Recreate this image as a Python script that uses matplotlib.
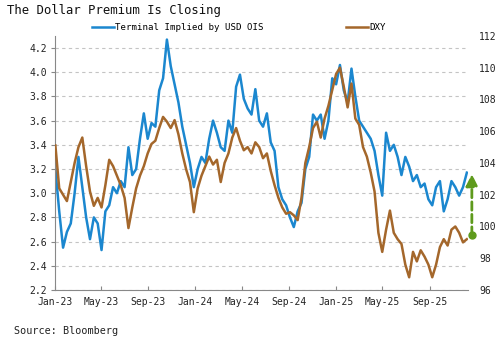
import matplotlib
matplotlib.use("Agg")
import matplotlib.pyplot as plt
import matplotlib.dates as mdates
import pandas as pd

# values, one every 10 days from 2 Jan 2023
start = "2023-01-02"
ois_terminal = [3.20, 2.85, 2.55, 2.68, 2.75, 3.00, 3.30, 3.05, 2.80, 2.62,
                2.80, 2.75, 2.53, 2.85, 2.90, 3.05, 3.00, 3.10, 3.05, 3.38,
                3.15, 3.20, 3.45, 3.66, 3.45, 3.58, 3.55, 3.85, 3.95, 4.27,
                4.05, 3.90, 3.75, 3.55, 3.40, 3.25, 3.05, 3.20, 3.30, 3.25,
                3.45, 3.60, 3.50, 3.38, 3.35, 3.60, 3.50, 3.88, 3.98, 3.78,
                3.70, 3.65, 3.86, 3.60, 3.55, 3.66, 3.42, 3.35, 3.05, 2.95,
                2.90, 2.80, 2.72, 2.85, 2.92, 3.20, 3.30, 3.65, 3.60, 3.65,
                3.45, 3.60, 3.95, 3.90, 4.06, 3.85, 3.75, 4.03, 3.80, 3.60,
                3.55, 3.50, 3.45, 3.35, 3.15, 2.98, 3.50, 3.35, 3.40, 3.30,
                3.15, 3.30, 3.22, 3.10, 3.15, 3.05, 3.08, 2.95, 2.90, 3.05,
                3.10, 2.85, 2.95, 3.10, 3.05, 2.98, 3.05, 3.17]
dxy = [105.1, 102.4, 102.0, 101.6, 102.8, 104.0, 105.0, 105.6, 103.8, 102.2,
       101.3, 101.8, 101.2, 102.6, 104.2, 103.8, 103.2, 102.6, 101.8, 99.9,
       101.2, 102.4, 103.2, 103.8, 104.6, 105.2, 105.4, 106.2, 106.9, 106.6,
       106.2, 106.7, 105.8, 104.6, 103.6, 102.8, 100.9, 102.4, 103.2, 103.8,
       104.4, 103.9, 104.2, 102.8, 104.0, 104.6, 105.6, 106.2, 105.4, 104.8,
       105.0, 104.6, 105.3, 105.0, 104.3, 104.6, 103.5, 102.6, 101.8, 101.2,
       100.8, 100.9, 100.7, 100.4, 101.8, 104.0, 105.0, 106.2, 106.6, 105.6,
       106.8, 107.6, 108.6, 109.6, 110.0, 108.8, 107.5, 109.0, 106.8, 106.4,
       105.0, 104.4, 103.4, 102.2, 99.6, 98.4, 99.8, 101.0, 99.6, 99.2,
       98.9, 97.6, 96.8, 98.4, 97.8, 98.5, 98.1, 97.6, 96.8, 97.6,
       98.7, 99.2, 98.8, 99.8, 100.0, 99.6, 99.0, 99.2]
dates = pd.date_range(start, periods=len(ois_terminal), freq="10D")

left_ticks = [2.2, 2.4, 2.6, 2.8, 3.0, 3.2, 3.4, 3.6, 3.8, 4.0, 4.2]
right_ticks = [96, 98, 100, 102, 104, 106, 108, 110, 112]
arrow_date = "2025-12-20"
arrow_from, arrow_to = 99.45, 103.3

blue = "#1b87cf"
brown = "#a4672b"
green = "#5e9a1c"
mono = "DejaVu Sans Mono"

fig = plt.figure(figsize=(5, 3.41), dpi=100)
ax = fig.add_axes([0.11, 0.1496, 0.826, 0.745])
ax2 = ax.twinx()

l1, = ax.plot(dates, ois_terminal, color=blue, lw=1.8,
              label="Terminal Implied by USD OIS")
l2, = ax2.plot(dates, dxy, color=brown, lw=1.8, label="DXY")

ax.set_ylim(2.2, 4.3)
ax.set_yticks(left_ticks)
ax.set_yticklabels([f"{v:.1f}" for v in left_ticks])
ax2.set_ylim(96, 112)
ax2.set_yticks(right_ticks)

ax.set_xlim(pd.Timestamp("2023-01-01"), pd.Timestamp("2025-12-10"))
ax.xaxis.set_major_locator(mdates.MonthLocator(bymonth=[1, 5, 9]))
ax.xaxis.set_major_formatter(mdates.DateFormatter("%b-%y"))

ax.grid(axis="y", color="#c4c4c4", linestyle=(0, (3, 3)), lw=0.8)
ax.set_axisbelow(True)

for s in ["top", "right"]:
    ax.spines[s].set_visible(False)
for s in ["top", "right", "left", "bottom"]:
    ax2.spines[s].set_visible(False)
ax.spines["left"].set_color("#888888")
ax.spines["bottom"].set_color("#888888")

ax.tick_params(axis="y", direction="out", length=3, color="#888888",
               labelsize=7, pad=3, labelcolor="#222222")
ax.tick_params(axis="x", direction="in", length=3, color="#888888",
               labelsize=7, pad=5, labelcolor="#222222")
ax2.tick_params(axis="y", length=0, labelsize=7, pad=8, labelcolor="#222222")
for lab in ax.get_xticklabels() + ax.get_yticklabels() + ax2.get_yticklabels():
    lab.set_family(mono)

# green arrow showing the gap
ax2.annotate("", xy=(pd.Timestamp(arrow_date), arrow_to),
             xytext=(pd.Timestamp(arrow_date), arrow_from),
             arrowprops=dict(arrowstyle="-|>,head_width=0.35,head_length=0.7",
                             color=green, lw=2, linestyle=(0, (3, 1.5)),
                             shrinkA=0, shrinkB=0),
             annotation_clip=False)
ax2.plot([pd.Timestamp(arrow_date)], [arrow_from], "o", color=green,
         ms=5, clip_on=False)

fig.legend(handles=[l1, l2], loc="center", bbox_to_anchor=(0.478, 0.918),
           ncol=2, frameon=False, prop={"family": mono, "size": 6.6},
           handlelength=2.4, handletextpad=0.1, columnspacing=9)

fig.text(0.014, 0.97, "The Dollar Premium Is Closing", family=mono,
         fontsize=8.8, va="center", ha="left", color="#111111")
fig.text(0.028, 0.03, "Source: Bloomberg", family=mono, fontsize=7.3,
         va="center", ha="left", color="#222222")

fig.savefig("out.png", dpi=100)
